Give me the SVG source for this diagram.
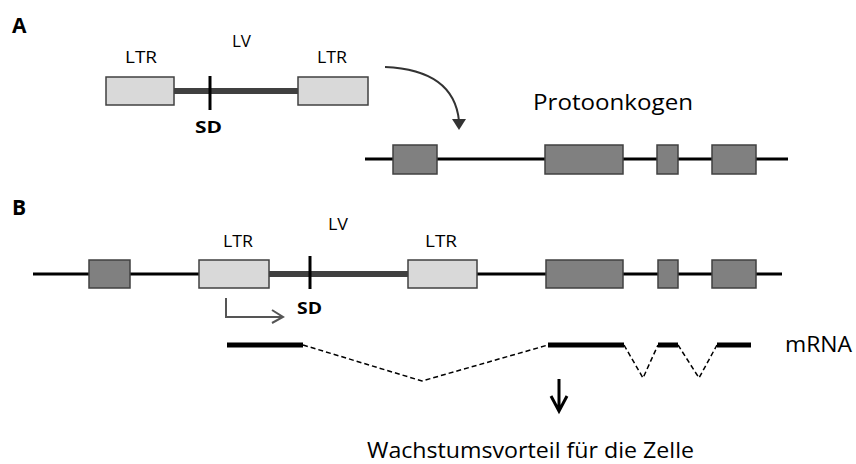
<svg xmlns="http://www.w3.org/2000/svg" width="856" height="464" viewBox="0 0 856 464">
<defs>
<style>
text{font-family:"Open Sans",Lato,"Liberation Sans",sans-serif;fill:#000}
.lbl{font-size:16px}
.big{font-size:21px}
.bold{font-weight:bold}
.ltr{fill:#d9d9d9;stroke:#404040;stroke-width:1.5}
.exon{fill:#808080;stroke:#404040;stroke-width:1.5}
.dna{stroke:#000;stroke-width:3;fill:none}
.lv{stroke:#404040;stroke-width:6;fill:none}
.tick{stroke:#000;stroke-width:3}
.mrna{stroke:#000;stroke-width:5;fill:none}
.dash{stroke:#000;stroke-width:1.5;stroke-dasharray:5 3;fill:none}
</style>
</defs>
<g id="panel-labels">
<text x="12" y="33" class="big bold">A</text>
<text x="12" y="215" class="big bold">B</text>
</g>
<g id="connectors">
<path d="M385,67 Q454,70 459,121" fill="none" stroke="#333" stroke-width="2"/>
<path d="M452,119 L466,119 L459,130 Z" fill="#333"/>
<path d="M226,298 L226,317 L283,317 M272,310 L283,317 L272,323" fill="none" stroke="#555" stroke-width="2"/>
<path d="M559,379 L559,411 M551,396 L559,411 L567,396" fill="none" stroke="#000" stroke-width="3"/>
</g>
<g id="vector-A">
<line x1="174" y1="91" x2="298" y2="91" class="lv"/>
<rect x="106" y="77" width="68" height="28" class="ltr"/>
<rect x="298" y="77" width="70" height="28" class="ltr"/>
<line x1="210" y1="76" x2="210" y2="110" class="tick"/>
<text x="125" y="63" class="lbl" textLength="32" lengthAdjust="spacingAndGlyphs">LTR</text>
<text x="232" y="47" class="lbl" textLength="19" lengthAdjust="spacingAndGlyphs">LV</text>
<text x="317" y="63" class="lbl" textLength="30" lengthAdjust="spacingAndGlyphs">LTR</text>
<text x="195" y="133" class="lbl bold" textLength="27" lengthAdjust="spacingAndGlyphs">SD</text>
</g>
<g id="protooncogene-A">
<line x1="365" y1="159" x2="788" y2="159" class="dna"/>
<rect x="393" y="145" width="44" height="29" class="exon"/>
<rect x="545" y="145" width="78" height="29" class="exon"/>
<rect x="657" y="145" width="21" height="29" class="exon"/>
<rect x="712" y="145" width="44" height="29" class="exon"/>
<text x="533" y="110" class="big" textLength="160" lengthAdjust="spacingAndGlyphs">Protoonkogen</text>
</g>
<g id="genome-B">
<line x1="33" y1="274" x2="782" y2="274" class="dna"/>
<line x1="269" y1="274" x2="408" y2="274" class="lv"/>
<rect x="89" y="260" width="41" height="28" class="exon"/>
<rect x="199" y="260" width="70" height="28" class="ltr"/>
<rect x="408" y="260" width="69" height="28" class="ltr"/>
<line x1="310" y1="256" x2="310" y2="289" class="tick"/>
<rect x="546" y="260" width="77" height="28" class="exon"/>
<rect x="658" y="260" width="20" height="28" class="exon"/>
<rect x="712" y="260" width="44" height="28" class="exon"/>
<text x="223" y="247" class="lbl" textLength="30" lengthAdjust="spacingAndGlyphs">LTR</text>
<text x="328" y="230" class="lbl" textLength="20" lengthAdjust="spacingAndGlyphs">LV</text>
<text x="425" y="247" class="lbl" textLength="32" lengthAdjust="spacingAndGlyphs">LTR</text>
<text x="297" y="314" class="lbl bold" textLength="25" lengthAdjust="spacingAndGlyphs">SD</text>
</g>
<g id="mrna">
<line x1="227" y1="345" x2="303" y2="345" class="mrna"/>
<line x1="548" y1="345" x2="624" y2="345" class="mrna"/>
<line x1="658" y1="345" x2="678" y2="345" class="mrna"/>
<line x1="717" y1="345" x2="751" y2="345" class="mrna"/>
<polyline points="303,345 422,381 548,345" class="dash"/>
<polyline points="624,345 643,378 658,345" class="dash"/>
<polyline points="678,345 699,378 717,345" class="dash"/>
<text x="785" y="352" class="big" textLength="67" lengthAdjust="spacingAndGlyphs">mRNA</text>
</g>
<g id="result">
<text x="367" y="458" class="big" textLength="327" lengthAdjust="spacingAndGlyphs">Wachstumsvorteil für die Zelle</text>
</g>
</svg>
